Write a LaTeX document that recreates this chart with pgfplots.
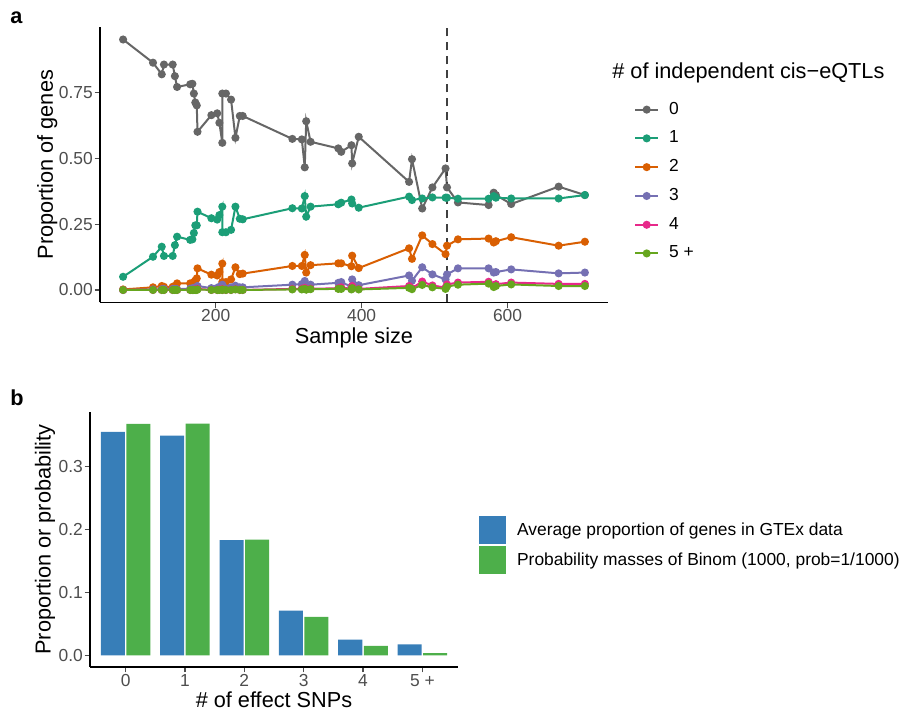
\documentclass[border=0pt]{standalone}
\usepackage{fontspec}
\setmainfont{Liberation Sans}
\usepackage{pgfplots}
\usepackage{pgfplotstable}
\pgfplotsset{compat=1.18}
\definecolor{c0}{HTML}{666666}
\definecolor{c1}{HTML}{1B9E77}
\definecolor{c2}{HTML}{D95F02}
\definecolor{c3}{HTML}{7570B3}
\definecolor{c4}{HTML}{E7298A}
\definecolor{c5}{HTML}{66A61E}
\definecolor{bblue}{HTML}{377EB8}
\definecolor{bgreen}{HTML}{4DAF4A}
\definecolor{tickgray}{HTML}{4D4D4D}
\newcommand{\bigf}{\fontsize{10.85}{13}\selectfont}
\newcommand{\smallf}{\fontsize{8.7}{10.4}\selectfont}

\pgfplotstableread{
x g0 g1 g2 g3 g4 g5
73 0.950 0.050 0.002 0.000 0.000 0.000
114 0.862 0.126 0.010 0.002 0.000 0.000
126 0.818 0.164 0.015 0.003 0.000 0.000
129 0.855 0.129 0.012 0.004 0.000 0.000
141 0.855 0.129 0.012 0.004 0.000 0.000
144 0.811 0.170 0.015 0.004 0.000 0.000
147 0.770 0.202 0.025 0.003 0.000 0.000
165 0.780 0.190 0.025 0.005 0.000 0.000
168 0.782 0.192 0.020 0.006 0.000 0.000
170 0.745 0.216 0.030 0.008 0.001 0.000
172 0.711 0.245 0.036 0.006 0.002 0.000
174 0.700 0.245 0.044 0.009 0.002 0.000
175 0.600 0.297 0.082 0.015 0.004 0.002
194 0.663 0.272 0.058 0.007 0.000 0.000
202 0.670 0.267 0.055 0.008 0.000 0.000
205 0.634 0.284 0.068 0.012 0.002 0.000
209 0.558 0.316 0.100 0.020 0.004 0.002
209 0.745 0.219 0.030 0.006 0.000 0.000
214 0.745 0.219 0.030 0.006 0.000 0.000
221 0.722 0.228 0.040 0.010 0.000 0.000
227 0.577 0.316 0.086 0.016 0.003 0.002
233 0.660 0.270 0.060 0.010 0.000 0.000
237 0.660 0.268 0.062 0.010 0.000 0.000
305 0.573 0.310 0.091 0.020 0.004 0.002
318 0.571 0.309 0.091 0.022 0.005 0.002
322 0.465 0.356 0.133 0.034 0.008 0.004
324 0.640 0.278 0.066 0.012 0.003 0.001
330 0.562 0.316 0.094 0.020 0.005 0.003
368 0.537 0.325 0.101 0.027 0.006 0.004
372 0.524 0.331 0.101 0.030 0.010 0.004
386 0.549 0.343 0.090 0.012 0.004 0.002
387 0.480 0.328 0.130 0.040 0.015 0.007
396 0.581 0.312 0.083 0.018 0.004 0.002
465 0.410 0.354 0.158 0.055 0.015 0.008
469 0.496 0.341 0.118 0.035 0.007 0.003
483 0.309 0.347 0.207 0.086 0.032 0.019
497 0.389 0.351 0.174 0.059 0.017 0.010
515 0.461 0.350 0.136 0.040 0.009 0.004
517 0.389 0.350 0.168 0.059 0.021 0.013
532 0.332 0.346 0.192 0.082 0.028 0.020
574 0.322 0.346 0.195 0.082 0.031 0.024
581 0.369 0.356 0.180 0.066 0.018 0.011
584 0.360 0.350 0.185 0.068 0.022 0.015
605 0.326 0.347 0.200 0.078 0.028 0.021
670 0.392 0.347 0.168 0.063 0.023 0.015
706 0.360 0.360 0.183 0.066 0.023 0.015
}\dataA

\pgfplotstableread{
x avg binom
0 0.355 0.3677
1 0.349 0.3681
2 0.183 0.1840
3 0.071 0.0613
4 0.025 0.0153
5 0.0174 0.0037
}\dataB

\pgfplotsset{
  myaxis/.style={
    scale only axis,
    axis x line*=bottom, axis y line*=left,
    axis line style={-, black, line width=0.55pt},
    tick align=outside,
    major tick length=2.7pt,
    tick style={tickgray, line width=0.55pt},
    tick label style={font=\smallf, text=tickgray, inner sep=0.7pt},
    label style={font=\bigf},
    /pgf/number format/assume math mode=true,
  },
}

\begin{document}
\begin{tikzpicture}
\path[use as bounding box] (0pt,0pt) rectangle (453.5pt,357.5pt);

% Panel a
\begin{axis}[myaxis,
  at={(50pt,206.25pt)}, anchor=south west,
  width=254pt, height=137.75pt,
  xmin=41.35, xmax=737.65, ymin=-0.0475, ymax=0.9975,
  xtick={200,400,600},
  ytick={0,0.25,0.5,0.75},
  yticklabels={0.00,0.25,0.50,0.75},
  xlabel={Sample size},
  ylabel={Proportion of genes},
  xlabel style={at={(axis description cs:0.5,-0.129)}, anchor=center},
  ylabel style={at={(axis description cs:-0.104,0.5)}, anchor=center},
  legend entries={0,1,2,3,4,5 +},
  legend cell align=left,
  legend style={at={(axis description cs:1.039,0.758)}, anchor=north west,
    draw=none, fill=none, font=\smallf, row sep=2.85pt, column sep=3pt},
  legend image code/.code={\draw[mark repeat=2,mark phase=2,#1] plot coordinates {(0pt,0pt) (5.75pt,0pt) (11.5pt,0pt)};},
]
\addplot[c0, line width=1pt, mark=*, mark size=1.5pt] table[x=x,y=g0]{\dataA};
\addplot[c1, line width=1pt, mark=*, mark size=1.5pt] table[x=x,y=g1]{\dataA};
\addplot[c2, line width=1pt, mark=*, mark size=1.5pt] table[x=x,y=g2]{\dataA};
\addplot[c3, line width=1pt, mark=*, mark size=1.5pt] table[x=x,y=g3]{\dataA};
\addplot[c4, line width=1pt, mark=*, mark size=1.5pt] table[x=x,y=g4]{\dataA};
\addplot[c5, line width=1pt, mark=*, mark size=1.5pt] table[x=x,y=g5]{\dataA};
\addplot[forget plot, black!75, line width=0.6pt, dash pattern=on 4pt off 3pt] coordinates {(517,-0.0475) (517,0.9975)};
\end{axis}
\node[anchor=west, font=\bigf, inner sep=0pt] at (306pt,321pt) {\# of independent cis−eQTLs};
\node[anchor=west, font=\bigf\bfseries, inner sep=0pt] at (5pt,348.5pt) {a};

% Panel b
\begin{axis}[myaxis,
  at={(45pt,24pt)}, anchor=south west,
  width=184pt, height=127.5pt,
  xmin=-0.6, xmax=5.6, ymin=-0.0184, ymax=0.3865,
  xtick={0,1,2,3,4,5},
  xticklabels={0,1,2,3,4,5 +},
  ytick={0,0.1,0.2,0.3},
  yticklabels={0.0,0.1,0.2,0.3},
  xlabel={\# of effect SNPs},
  ylabel={Proportion or probability},
  xlabel style={at={(axis description cs:0.5,-0.129)}, anchor=center},
  ylabel style={at={(axis description cs:-0.122,0.5)}, anchor=center},
  legend cell align=left,
  legend style={at={(axis description cs:1.040,0.608)}, anchor=north west,
    draw=none, fill=none, font=\smallf, row sep=1pt, column sep=3.5pt},
]
\addplot[ybar, bar width=0.405, bar shift=-0.215, fill=bblue, draw=none,
  legend image code/.code={\fill[bblue] (0pt,-7pt) rectangle (13.5pt,7pt);}]
  table[x=x,y=avg]{\dataB};
\addlegendentry{Average proportion of genes in GTEx data}
\addplot[ybar, bar width=0.405, bar shift=0.215, fill=bgreen, draw=none,
  legend image code/.code={\fill[bgreen] (0pt,-7pt) rectangle (13.5pt,7pt);}]
  table[x=x,y=binom]{\dataB};
\addlegendentry{Probability masses of Binom (1000, prob=1/1000)}
\end{axis}
\node[anchor=west, font=\bigf\bfseries, inner sep=0pt] at (5pt,158.5pt) {b};
\end{tikzpicture}
\end{document}
